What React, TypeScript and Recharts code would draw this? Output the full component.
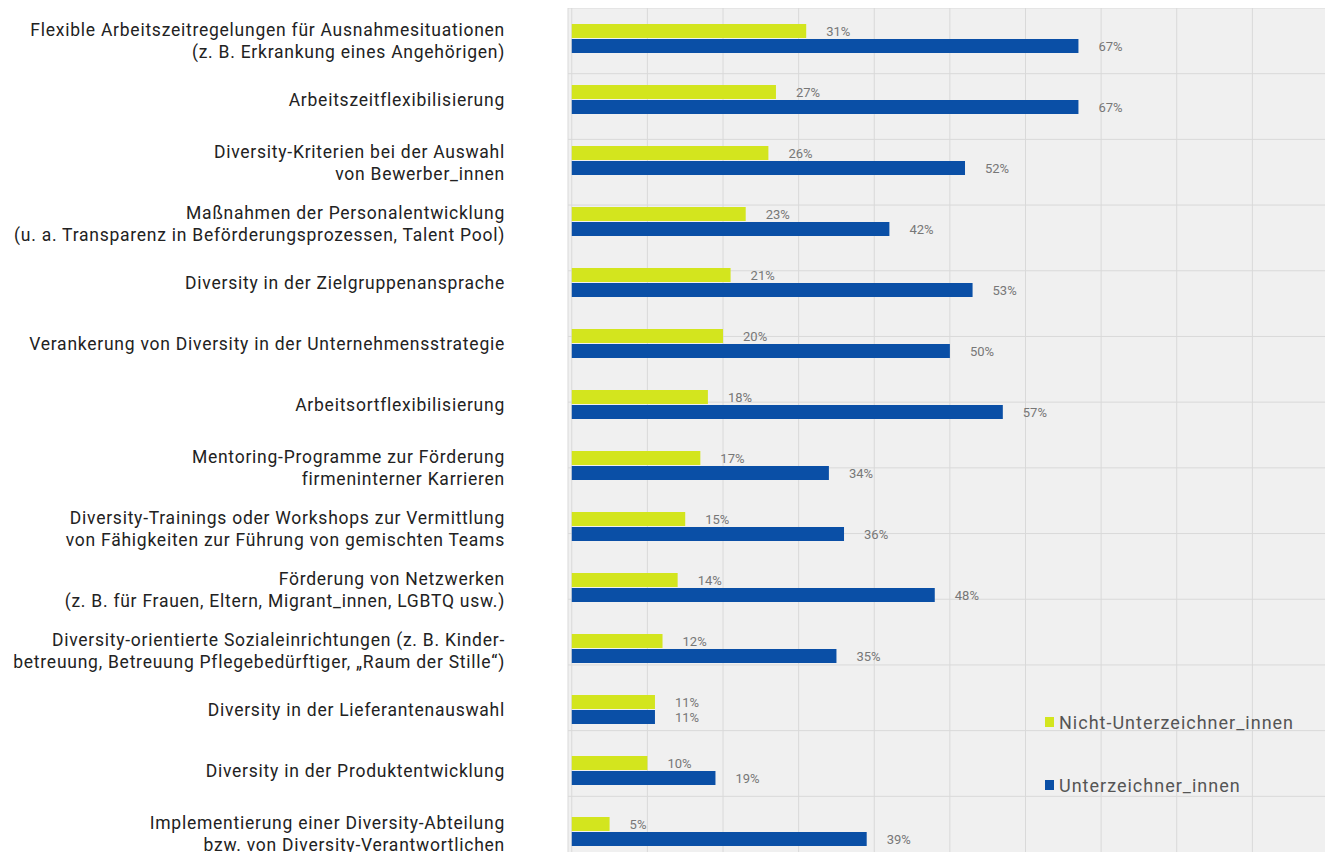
import React from "react";
import { BarChart, Bar, XAxis, YAxis, CartesianGrid, LabelList, Legend } from "recharts";

const categories = [
  "Flexible Arbeitszeitregelungen für Ausnahmesituationen\n(z. B. Erkrankung eines Angehörigen)",
  "Arbeitszeitflexibilisierung",
  "Diversity-Kriterien bei der Auswahl\nvon Bewerber_innen",
  "Maßnahmen der Personalentwicklung\n(u. a. Transparenz in Beförderungsprozessen, Talent Pool)",
  "Diversity in der Zielgruppenansprache",
  "Verankerung von Diversity in der Unternehmensstrategie",
  "Arbeitsortflexibilisierung",
  "Mentoring-Programme zur Förderung\nfirmeninterner Karrieren",
  "Diversity-Trainings oder Workshops zur Vermittlung\nvon Fähigkeiten zur Führung von gemischten Teams",
  "Förderung von Netzwerken\n(z. B. für Frauen, Eltern, Migrant_innen, LGBTQ usw.)",
  "Diversity-orientierte Sozialeinrichtungen (z. B. Kinder-\nbetreuung, Betreuung Pflegebedürftiger, „Raum der Stille“)",
  "Diversity in der Lieferantenauswahl",
  "Diversity in der Produktentwicklung",
  "Implementierung einer Diversity-Abteilung\nbzw. von Diversity-Verantwortlichen",
];

const nichtUnterzeichner = [31, 27, 26, 23, 21, 20, 18, 17, 15, 14, 12, 11, 10, 5];
const unterzeichner = [67, 67, 52, 42, 53, 50, 57, 34, 36, 48, 35, 11, 19, 39];

const xTicks = [0, 10, 20, 30, 40, 50, 60, 70, 80, 90, 100];
const rowBoundaries = [0, 1, 2, 3, 4, 5, 6, 7, 8, 9, 10, 11, 12, 13, 14];

const SERIES_NICHT = "Nicht-Unterzeichner_innen";
const SERIES_UNTER = "Unterzeichner_innen";

const data = categories.map((c, i) => ({
  category: c,
  nicht: nichtUnterzeichner[i],
  unter: unterzeichner[i],
}));

const YELLOW = "#d3e51e";
const BLUE = "#0a4fa6";
const LINE_H = 22;

function CategoryTick(props: any) {
  const { x, y, payload } = props;
  const lines = String(payload.value).split("\n");
  const start = lines.length === 1 ? 6 : -((lines.length - 1) * LINE_H) / 2 + 8;
  return (
    <text
      x={x}
      y={y}
      textAnchor="end"
      fontFamily="Roboto"
      fontSize={17.5}
      letterSpacing={0.75}
      fill="#222"
    >
      {lines.map((l: string, i: number) => (
        <tspan key={i} x={x} dy={i === 0 ? start : LINE_H}>
          {l}
        </tspan>
      ))}
    </text>
  );
}

function LegendContent(props: any) {
  const { payload } = props;
  return (
    <div style={{ fontFamily: "Roboto", fontSize: 18, letterSpacing: 1, color: "#555" }}>
      {(payload || []).map((p: any, i: number) => (
        <div
          key={i}
          style={{ display: "flex", alignItems: "center", height: 20, marginBottom: i === 0 ? 43 : 0 }}
        >
          <span style={{ display: "inline-block", width: 9, height: 10, background: p.color, marginRight: 5 }} />
          <span>{p.value}</span>
        </div>
      ))}
    </div>
  );
}

export default function App() {
  return (
    <div>
      <style>{`html,body{overflow:hidden}`}</style>
      <BarChart
        width={1325}
        height={854}
        data={data}
        layout="vertical"
        margin={{ top: 0, right: 5, bottom: 0, left: 0 }}
        barSize={14}
        barGap={1}
      >
        <CartesianGrid yAxisId="grid" fill="#f0f0f0" stroke="#d9d9d9" strokeWidth={1} />
        <XAxis type="number" domain={[-0.5, 100]} ticks={xTicks} hide />
        <YAxis yAxisId="grid" type="number" domain={[0, 14]} ticks={rowBoundaries} hide width={0} />
        <YAxis
          yAxisId="cat"
          type="category"
          dataKey="category"
          width={560}
          axisLine={false}
          tickLine={false}
          tickSize={0}
          tickMargin={63}
          interval={0}
          tick={<CategoryTick />}
        />
        <Legend
          layout="vertical"
          verticalAlign="middle"
          align="center"
          wrapperStyle={{ position: "absolute", left: 1037, top: 704, width: 280 }}
          content={<LegendContent />}
        />
        <Bar yAxisId="cat" dataKey="nicht" name={SERIES_NICHT} fill={YELLOW} isAnimationActive={false}>
          <LabelList
            dataKey="nicht"
            position="right"
            offset={20}
            formatter={(v: any) => `${v}%`}
            style={{ fontFamily: "Roboto", fontSize: 13, fill: "#777" }}
          />
        </Bar>
        <Bar yAxisId="cat" dataKey="unter" name={SERIES_UNTER} fill={BLUE} isAnimationActive={false}>
          <LabelList
            dataKey="unter"
            position="right"
            offset={20}
            formatter={(v: any) => `${v}%`}
            style={{ fontFamily: "Roboto", fontSize: 13, fill: "#777" }}
          />
        </Bar>
      </BarChart>
    </div>
  );
}
